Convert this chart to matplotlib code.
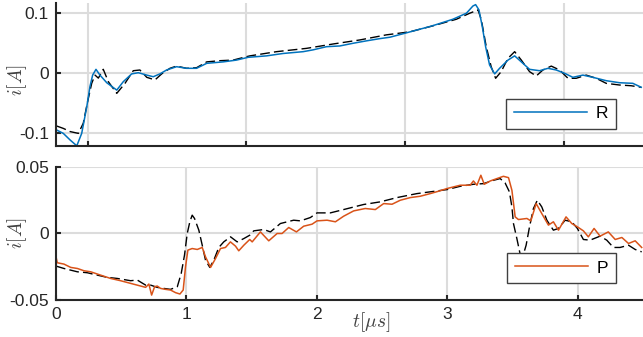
import matplotlib
matplotlib.use('Agg')
import matplotlib.pyplot as plt

# top panel (its own time axis, ticks hidden)
t_top_meas = [0.805, 0.846, 0.889, 0.941, 0.972, 0.997, 1.025, 1.046, 1.067, 1.098, 1.13, 1.183,
              1.235, 1.287, 1.329, 1.372, 1.424, 1.466, 1.518, 1.56, 1.623, 1.686, 1.75, 1.833,
              1.917, 2.001, 2.022, 2.19, 2.379, 2.547, 2.715, 2.883, 3.03, 3.176, 3.324, 3.408,
              3.46, 3.481, 3.512, 3.543, 3.571, 3.606, 3.649, 3.691, 3.733, 3.785, 3.827, 3.869,
              3.922, 3.974, 4.027, 4.079, 4.142, 4.205, 4.268, 4.352, 4.425, 4.489]
i_top_meas = [-0.0888, -0.0927, -0.098, -0.101, -0.084, -0.051, -0.0177, -0.004, -0.009, 0.0056,
              -0.015, -0.0344, -0.0177, 0.0033, 0.0045, -0.0077, -0.012, -0.002, 0.0073, 0.011,
              0.0073, 0.0083, 0.018, 0.020, 0.021, 0.0267, 0.028, 0.035, 0.0405, 0.0478, 0.0545,
              0.063, 0.068, 0.078, 0.089, 0.099, 0.1045, 0.088, 0.0433, 0.010, -0.0093, 0.0017,
              0.024, 0.035, 0.021, 0.0017, -0.0055, 0.0045, 0.011, 0.0045, -0.0093, -0.0093,
              -0.004, -0.0093, -0.0177, -0.0205, -0.0217, -0.0243]

t_R = [0.805, 0.846, 0.889, 0.931, 0.962, 0.994, 1.014, 1.031, 1.052, 1.077, 1.12, 1.183, 1.224,
       1.277, 1.319, 1.372, 1.413, 1.455, 1.497, 1.56, 1.623, 1.686, 1.75, 1.854, 1.938, 2.011,
       2.127, 2.232, 2.358, 2.42, 2.505, 2.589, 2.673, 2.757, 2.841, 2.904, 3.0, 3.092, 3.155,
       3.208, 3.302, 3.387, 3.428, 3.445, 3.466, 3.487, 3.508, 3.533, 3.565, 3.596, 3.649, 3.691,
       3.733, 3.785, 3.848, 3.901, 3.953, 4.006, 4.058, 4.121, 4.184, 4.268, 4.352, 4.436, 4.489]
i_R = [-0.0955, -0.101, -0.112, -0.1217, -0.101, -0.0567, -0.023, -0.004, 0.0056, -0.004, -0.0167,
       -0.029, -0.015, -0.002, 0.0, -0.004, -0.0067, -0.002, 0.0045, 0.010, 0.0073, 0.0073, 0.0156,
       0.018, 0.021, 0.0256, 0.028, 0.032, 0.035, 0.038, 0.0433, 0.0445, 0.049, 0.053, 0.0567,
       0.059, 0.0657, 0.0723, 0.0767, 0.081, 0.089, 0.099, 0.111, 0.1133, 0.1045, 0.0767, 0.0433,
       0.0128, -0.002, 0.0073, 0.021, 0.028, 0.018, 0.0056, 0.0033, 0.0073, 0.0045, -0.001,
       -0.0077, -0.004, -0.0077, -0.0133, -0.0167, -0.0177, -0.0243]

# bottom panel
t_bot_meas = [0.0, 0.061, 0.164, 0.24, 0.317, 0.393, 0.47, 0.572, 0.623, 0.687, 0.725, 0.776,
              0.827, 0.878, 0.93, 0.96, 0.985, 1.006, 1.026, 1.044, 1.062, 1.095, 1.121, 1.146,
              1.179, 1.21, 1.248, 1.286, 1.338, 1.389, 1.44, 1.485, 1.516, 1.593, 1.644, 1.72,
              1.822, 1.874, 1.95, 2.001, 2.103, 2.205, 2.358, 2.486, 2.614, 2.767, 2.92, 2.997,
              3.099, 3.2, 3.277, 3.354, 3.405, 3.443, 3.476, 3.495, 3.507, 3.533, 3.557, 3.578,
              3.604, 3.63, 3.66, 3.69, 3.724, 3.763, 3.813, 3.852, 3.903, 3.954, 3.997, 4.043,
              4.094, 4.171, 4.222, 4.273, 4.324, 4.389, 4.44, 4.49]
i_bot_meas = [-0.0245, -0.0263, -0.0288, -0.0295, -0.0313, -0.033, -0.0338, -0.0355, -0.035,
              -0.0388, -0.0388, -0.0405, -0.0413, -0.042, -0.040, -0.030, -0.0163, 0.0, 0.0088,
              0.0138, 0.0113, 0.0025, -0.0088, -0.020, -0.0255, -0.020, -0.0105, -0.0063, -0.0025,
              -0.0063, -0.0038, -0.0013, 0.002, 0.003, 0.0012, 0.0075, 0.010, 0.0095, 0.012,
              0.0155, 0.0155, 0.018, 0.0218, 0.0238, 0.027, 0.030, 0.032, 0.033, 0.0355, 0.037,
              0.0375, 0.040, 0.0413, 0.038, 0.0313, 0.020, 0.0075, -0.0038, -0.015, -0.0175,
              -0.0088, 0.005, 0.0188, 0.025, 0.020, 0.010, 0.0025, 0.0038, 0.010, 0.0088, 0.0038,
              -0.0045, -0.005, -0.002, -0.005, -0.0105, -0.0105, -0.0088, -0.012, -0.0138]

t_P = [0.0, 0.01, 0.061, 0.113, 0.164, 0.214, 0.266, 0.342, 0.419, 0.495, 0.572, 0.649, 0.687,
       0.712, 0.733, 0.756, 0.776, 0.802, 0.84, 0.878, 0.917, 0.95, 0.975, 0.993, 1.011, 1.044,
       1.083, 1.121, 1.146, 1.185, 1.223, 1.261, 1.299, 1.337, 1.376, 1.401, 1.44, 1.485, 1.504,
       1.567, 1.631, 1.695, 1.733, 1.784, 1.843, 1.899, 1.963, 2.001, 2.078, 2.142, 2.205, 2.282,
       2.371, 2.448, 2.512, 2.576, 2.639, 2.716, 2.792, 2.869, 2.94, 2.997, 3.099, 3.175, 3.2,
       3.227, 3.257, 3.283, 3.329, 3.38, 3.43, 3.469, 3.495, 3.52, 3.545, 3.61, 3.64, 3.681,
       3.724, 3.775, 3.813, 3.852, 3.91, 3.954, 3.997, 4.043, 4.081, 4.125, 4.171, 4.234, 4.287,
       4.338, 4.389, 4.44, 4.49]
i_P = [-0.0175, -0.022, -0.023, -0.0255, -0.0263, -0.028, -0.0288, -0.0313, -0.0338, -0.0355,
       -0.0375, -0.0395, -0.0405, -0.038, -0.0463, -0.040, -0.0395, -0.0413, -0.042, -0.0425,
       -0.0445, -0.0455, -0.0425, -0.025, -0.0125, -0.0113, -0.012, -0.0105, -0.0175, -0.0255,
       -0.0188, -0.0113, -0.0105, -0.0063, -0.0095, -0.013, -0.0088, -0.0045, -0.0063, 0.0012,
       -0.0055, 0.0, 0.0, 0.0045, 0.0012, 0.0055, 0.007, 0.0095, 0.010, 0.0088, 0.013, 0.017,
       0.0188, 0.018, 0.0225, 0.022, 0.025, 0.027, 0.028, 0.030, 0.032, 0.0338, 0.0363, 0.0363,
       0.0395, 0.0363, 0.0438, 0.037, 0.0395, 0.0413, 0.043, 0.042, 0.0325, 0.0125, 0.0105,
       0.0113, 0.0095, 0.0225, 0.015, 0.0063, 0.0088, 0.0025, 0.0125, 0.0075, 0.005, 0.002,
       -0.0025, 0.0038, -0.002, 0.0012, -0.0045, -0.003, -0.0075, -0.0055, -0.0105]

plt.rcParams['font.family'] = ['Liberation Sans', 'DejaVu Sans']
plt.rcParams['mathtext.fontset'] = 'cm'

dark = '#262626'
grid_c = '#dcdcdc'

fig = plt.figure(figsize=(6.43, 3.37), dpi=100)
ax1 = fig.add_axes([56 / 643, 1 - 146 / 337, 587 / 643, 143 / 337])
ax2 = fig.add_axes([56 / 643, 1 - 300 / 337, 587 / 643, 133 / 337])


def style(ax):
    for s in ['top', 'right']:
        ax.spines[s].set_visible(False)
    for s in ['left', 'bottom']:
        ax.spines[s].set_color(dark)
        ax.spines[s].set_linewidth(1.5)
    ax.tick_params(direction='in', length=3.5, width=1.5, colors=dark, labelsize=12.5, pad=5)
    ax.grid(True, color=grid_c, lw=1.5)
    ax.set_axisbelow(True)


ax1.plot(t_top_meas, i_top_meas, color='black', lw=1.0, dashes=(7, 3))
ax1.plot(t_R, i_R, color='#0072BD', lw=1.1, label='R')
ax1.set_xlim(0.8, 4.5)
ax1.set_ylim(-0.122, 0.116)
ax1.set_xticks([1, 2, 3, 4])
ax1.set_xticklabels([])
ax1.set_yticks([-0.1, 0, 0.1])
ax1.set_yticklabels(['-0.1', '0', '0.1'])
style(ax1)
ax1.set_ylabel(r'$i[A]$', fontsize=14, color='#404040')
ax1.yaxis.set_label_coords(-27 / 587, 0.46)
ax1.legend(loc='lower right', bbox_to_anchor=(0.968, 0.056), fontsize=12.5, fancybox=False,
           edgecolor='#404040', framealpha=1, handlelength=4.2, borderpad=0.45,
           handletextpad=0.5).get_frame().set_linewidth(1.0)

ax2.plot(t_bot_meas, i_bot_meas, color='black', lw=1.0, dashes=(7, 3))
ax2.plot(t_P, i_P, color='#D95319', lw=1.1, label='P')
ax2.set_xlim(0, 4.5)
ax2.set_ylim(-0.05, 0.05)
ax2.set_xticks([0, 1, 2, 3, 4])
ax2.set_yticks([-0.05, 0, 0.05])
ax2.set_yticklabels(['-0.05', '0', '0.05'])
style(ax2)
ax2.set_ylabel(r'$i[A]$', fontsize=14, color='#404040')
ax2.yaxis.set_label_coords(-27 / 587, 0.5)
ax2.legend(loc='lower right', bbox_to_anchor=(0.968, 0.06), fontsize=12.5, fancybox=False,
           edgecolor='#404040', framealpha=1, handlelength=4.2, borderpad=0.45,
           handletextpad=0.5).get_frame().set_linewidth(1.0)

fig.text(371 / 643, 1 - 322 / 337, r'$t[\mu s]$', fontsize=14, color='#404040',
         ha='center', va='center')

fig.savefig('out.png', dpi=100)
